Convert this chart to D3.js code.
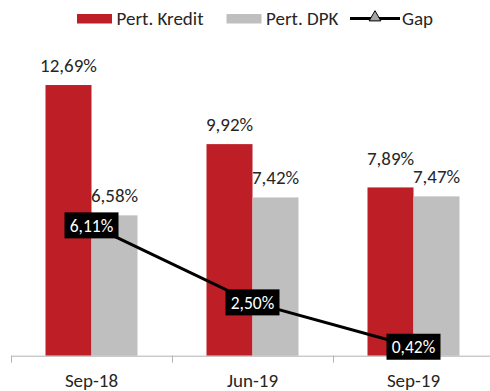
<!DOCTYPE html>
<html>
<head>
<meta charset="utf-8">
<script src="https://cdn.jsdelivr.net/npm/d3@7"></script>
<style>
  html, body { margin: 0; padding: 0; background: #fff; }
  svg { display: block; font-family: Carlito, Lato, "Open Sans", sans-serif; }
</style>
</head>
<body>
<svg id="chart" width="490" height="391"></svg>
<script>
// Periods and growth figures (percent)
const categories = ["Sep-18", "Jun-19", "Sep-19"];
const seriesNames = ["Pert. Kredit", "Pert. DPK"];
const kredit = [12.69, 9.92, 7.89];
const dpk = [6.58, 7.42, 7.47];
const gap = [6.11, 2.50, 0.42];
const valueLabels = {
  kredit: ["12,69%", "9,92%", "7,89%"],
  dpk: ["6,58%", "7,42%", "7,47%"],
  gap: ["6,11%", "2,50%", "0,42%"]
};

const colors = { "Pert. Kredit": "#be1e26", "Pert. DPK": "#bfbfbf", gap: "#000000" };

const svg = d3.select("#chart");

const x0 = d3.scaleBand().domain(categories).range([11, 494]).padding(0);
const x1 = d3.scaleBand().domain(seriesNames).range([0, x0.bandwidth()])
  .paddingInner(0).paddingOuter(0.75);
const y = d3.scaleLinear().domain([0, 14]).range([355.7, 57.1]);

const rows = categories.map((c, i) => ({
  cat: c,
  values: [
    { key: "Pert. Kredit", v: kredit[i], label: valueLabels.kredit[i] },
    { key: "Pert. DPK", v: dpk[i], label: valueLabels.dpk[i] }
  ]
}));

// Value labels sit above their bars; when the pair is close in height the
// taller bar's label is lifted so the two labels don't collide.
const labelGap = 13.5, minSep = 18;
rows.forEach(r => {
  r.values.forEach(v => { v.ly = y(v.v) - labelGap; });
  const [a, b] = r.values;
  if (Math.abs(a.ly - b.ly) < minSep) {
    const hi = a.ly <= b.ly ? a : b, lo = hi === a ? b : a;
    hi.ly = lo.ly - minSep;
  }
});

// Bars
const groups = svg.append("g").selectAll("g")
  .data(rows).join("g")
  .attr("transform", d => `translate(${x0(d.cat)},0)`);

groups.selectAll("rect")
  .data(d => d.values).join("rect")
  .attr("x", d => x1(d.key))
  .attr("width", x1.bandwidth())
  .attr("y", d => y(d.v))
  .attr("height", d => y(0) - y(d.v))
  .attr("fill", d => colors[d.key]);

groups.selectAll("text")
  .data(d => d.values).join("text")
  .attr("x", d => x1(d.key) + x1.bandwidth() / 2)
  .attr("y", d => d.ly)
  .attr("text-anchor", "middle")
  .attr("font-size", 19)
  .attr("fill", "#262626")
  .text(d => d.label);

// Category axis
const axis = svg.append("g")
  .attr("transform", `translate(0,${y(0)})`)
  .call(d3.axisBottom(x0).tickSize(0).tickPadding(0));
axis.select(".domain").attr("stroke", "#b3b3b3").attr("d", "M11,0.5H490");
axis.selectAll(".tick text")
  .attr("y", 31.5)
  .attr("dy", null)
  .attr("font-family", "Carlito, Lato, 'Open Sans', sans-serif")
  .attr("font-size", 19)
  .attr("fill", "#262626");
const boundaries = [0, 1, 2, 3].map(i => 11 + i * x0.step());
axis.selectAll(".bound").data(boundaries).join("line")
  .attr("class", "bound")
  .attr("x1", d => Math.round(d) + 0.5).attr("x2", d => Math.round(d) + 0.5)
  .attr("y1", 0).attr("y2", 7)
  .attr("stroke", "#b3b3b3");

// Gap line with boxed labels
const cx = c => x0(c) + x0.bandwidth() / 2;
const line = d3.line().x((d, i) => cx(categories[i])).y(d => y(d));
svg.append("path")
  .datum(gap)
  .attr("d", line)
  .attr("fill", "none")
  .attr("stroke", colors.gap)
  .attr("stroke-width", 3);

const gapLabels = svg.append("g").selectAll("g")
  .data(gap).join("g")
  .attr("transform", (d, i) => `translate(${cx(categories[i])},${y(d)})`);
gapLabels.append("rect")
  .attr("x", -27).attr("y", -13)
  .attr("width", 54).attr("height", 26)
  .attr("fill", "#000");
gapLabels.append("text")
  .attr("text-anchor", "middle")
  .attr("dy", "0.36em")
  .attr("font-size", 17.5)
  .attr("fill", "#fff")
  .text((d, i) => valueLabels.gap[i]);

// Legend
const legend = svg.append("g");
const legendItems = [
  { name: "Pert. Kredit", type: "rect", x: 77 },
  { name: "Pert. DPK", type: "rect", x: 226.5 },
  { name: "Gap", type: "line", x: 350 }
];
legendItems.forEach(it => {
  if (it.type === "rect") {
    legend.append("rect")
      .attr("x", it.x).attr("y", 14)
      .attr("width", 35).attr("height", 9.5)
      .attr("fill", colors[it.name]);
  } else {
    legend.append("line")
      .attr("x1", it.x).attr("x2", it.x + 50)
      .attr("y1", 18.5).attr("y2", 18.5)
      .attr("stroke", "#000").attr("stroke-width", 3);
    legend.append("path")
      .attr("d", d3.symbol(d3.symbolTriangle, 60)())
      .attr("transform", `translate(${it.x + 25},17.5)`)
      .attr("fill", "#a6a6a6")
      .attr("stroke", "#000")
      .attr("stroke-width", 1);
  }
  legend.append("text")
    .attr("x", it.x + (it.type === "rect" ? 39.5 : 52))
    .attr("y", 24.5)
    .attr("font-size", 19)
    .attr("fill", "#262626")
    .text(it.name);
});
</script>
</body>
</html>
